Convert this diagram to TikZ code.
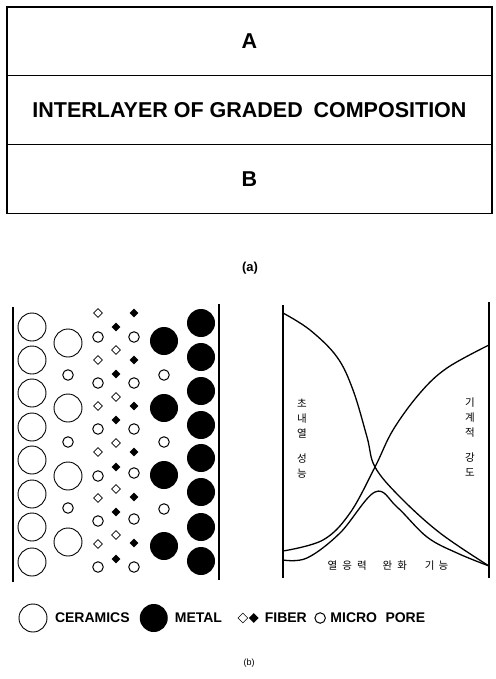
\documentclass[tikz,border=0pt]{standalone}
\usepackage{fontspec}
\setmainfont{Liberation Sans}
\newfontfamily\kofont{Noto Sans CJK KR}
\usetikzlibrary{positioning, shapes.geometric}

\begin{document}
\begin{tikzpicture}[x=1pt,y=-1pt,line width=1.1pt,
    layer/.style={draw,rectangle,minimum width=485pt,minimum height=68.7pt,outer sep=0pt,
      font=\bfseries\fontsize{21.5}{24}\selectfont},
    ceramic/.style={circle,draw,line width=0.9pt,minimum size=28pt,inner sep=0pt},
    metal/.style={circle,fill,minimum size=28pt,inner sep=0pt},
    pore/.style={circle,draw,line width=1pt,minimum size=10.5pt,inner sep=0pt},
    fibopen/.style={diamond,draw,line width=0.6pt,minimum size=9pt,inner sep=0pt},
    fibfull/.style={diamond,fill,minimum size=9pt,inner sep=0pt},
    wall/.style={line width=1.2pt},
    curve/.style={line width=1.3pt,smooth,tension=0.6},
    ko/.style={font=\kofont\fontsize{10.5}{15}\selectfont,align=center,inner sep=0pt},
    leg/.style={font=\bfseries\fontsize{14}{16}\selectfont,inner sep=0pt}]
  \useasboundingbox (0,0) rectangle (495,679);

  % (a) layered joint
  \node[layer] (la) at (249.5,41.35) {A};
  \node[layer,below=0pt of la] (lmid) {INTERLAYER OF GRADED\hspace{0.5em}COMPOSITION};
  \node[layer,below=0pt of lmid] (lb) {B};
  \node[font=\bfseries\fontsize{13}{15}\selectfont] (capa) at (250,268) {(a)};

  % (b) left: graded structure
  \draw[wall] (13,307) -- (13,582);
  \draw[wall] (219,304) -- (219,580);
  \foreach \y [count=\i] in {327,360,393,427,460,494,527,562}
    \node[ceramic] (ca\i) at (32,\y) {};
  \foreach \y [count=\i] in {343,408,476,542}
    \node[ceramic] (cb\i) at (68,\y) {};
  \foreach \y [count=\i] in {375,442,508}
    \node[pore] (pb\i) at (68,\y) {};
  \foreach \y [count=\i] in {313,360,406,452,498,544}
    \node[fibopen] (fc\i) at (98,\y) {};
  \foreach \y [count=\i] in {337,383,429,476,521,567}
    \node[pore] (pc\i) at (98,\y) {};
  \foreach \y [count=\i] in {327,374,420,467,512,559}
    \node[fibfull] (fd\i) at (116,\y) {};
  \foreach \y [count=\i] in {350,397,443,489,535}
    \node[fibopen] (fo\i) at (116,\y) {};
  \foreach \y [count=\i] in {313,360,406,452,497,543}
    \node[fibfull] (fe\i) at (134,\y) {};
  \foreach \y [count=\i] in {337,383,429,473,519,567}
    \node[pore] (pe\i) at (134,\y) {};
  \foreach \y [count=\i] in {341,408,475,546}
    \node[metal] (mf\i) at (164,\y) {};
  \foreach \y [count=\i] in {375,442,509}
    \node[pore] (pf\i) at (164,\y) {};
  \foreach \y [count=\i] in {323,357,391,425,458,492,527,561}
    \node[metal] (mg\i) at (201,\y) {};

  % (b) right: property curves
  \draw[wall] (283,305) -- (283,578);
  \draw[wall] (489,302) -- (489,578);
  \draw[curve] plot coordinates {(283,313) (310,330) (337,357) (353,390) (367,437)
    (375,467) (400,497) (440,533) (489,566)};
  \draw[curve] plot coordinates {(283,551) (323,540) (350,513) (375,467) (393,430)
    (420,393) (447,368) (489,345)};
  \draw[curve] plot coordinates {(283,560) (307,558) (340,533) (375,492) (397,507)
    (427,537) (457,553) (489,566)};
  \node[ko] (heat) at (302,439) {초\\내\\열\\[10pt]성\\능};
  \node[ko] (mech) at (470,437) {기\\계\\적\\[10pt]강\\도};
  \node[ko] (relax) at (388,566) {열\hspace{5pt}응\hspace{5pt}력\hspace{16pt}완\hspace{5pt}화\hspace{18pt}기\hspace{4pt}능};

  % legend
  \node[ceramic] (lgc) at (33,618) {};
  \node[leg,right=7pt of lgc] (lgct) {CERAMICS};
  \node[metal,right=9pt of lgct] (lgm) {};
  \node[leg,right=6pt of lgm] (lgmt) {METAL};
  \node[fibopen,minimum size=10pt,right=15pt of lgmt] (lgfo) {};
  \node[fibfull,minimum size=10pt,right=0pt of lgfo] (lgff) {};
  \node[leg,right=5pt of lgff] (lgft) {FIBER};
  \node[pore,right=7pt of lgft] (lgp) {};
  \node[leg,right=4pt of lgp] (lgpt) {MICRO\hspace{0.6em}PORE};
  \node[font=\fontsize{9}{11}\selectfont] (capb) at (249,663) {(b)};
\end{tikzpicture}
\end{document}
